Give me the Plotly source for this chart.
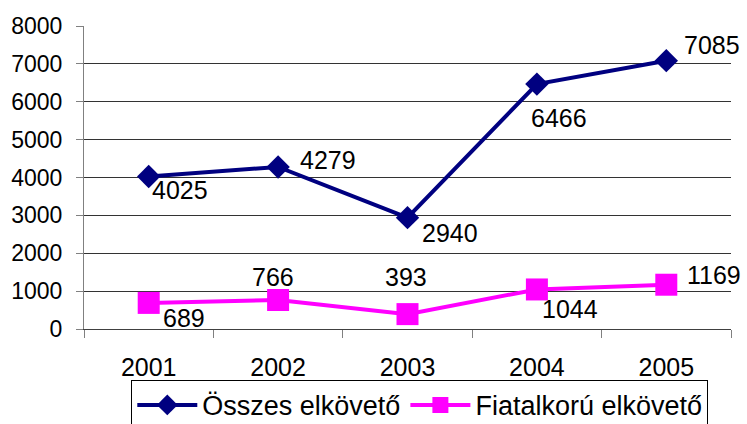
import plotly.graph_objects as go

years = ["2001", "2002", "2003", "2004", "2005"]
osszes = [4025, 4279, 2940, 6466, 7085]
fiatal = [689, 766, 393, 1044, 1169]
series_names = ["Összes elkövető", "Fiatalkorú elkövető"]

# label offsets in pixels (style only)
osszes_off = [(31, -13), (50, 7), (42, -15), (22, -34), (46, 16)]
fiatal_off = [(35, -15), (-5, 23), (-2, 37), (33, -20), (48, 10)]

FONT = "Liberation Sans, Arial, sans-serif"
NAVY = "#000080"
MAGENTA = "#FF00FF"

fig = go.Figure()
fig.add_trace(go.Scatter(
    x=years, y=osszes, name=series_names[0], mode="lines+markers",
    line=dict(color=NAVY, width=4),
    marker=dict(symbol="diamond", size=18, color=NAVY),
))
fig.add_trace(go.Scatter(
    x=years, y=fiatal, name=series_names[1], mode="lines+markers",
    line=dict(color=MAGENTA, width=4),
    marker=dict(symbol="square", size=22, color=MAGENTA),
))

annotations = []
for vals, offs in ((osszes, osszes_off), (fiatal, fiatal_off)):
    for i, (v, (dx, dy)) in enumerate(zip(vals, offs)):
        annotations.append(dict(
            x=i, y=v, xref="x", yref="y", text=str(v), showarrow=False,
            xanchor="center", yanchor="middle", xshift=dx, yshift=dy,
            font=dict(family=FONT, size=25, color="black"),
        ))

fig.update_layout(
    width=747, height=424,
    margin=dict(l=84, r=16, t=26, b=95, autoexpand=False),
    paper_bgcolor="white", plot_bgcolor="white",
    font=dict(family=FONT, color="black"),
    annotations=annotations,
    showlegend=True,
    legend=dict(
        orientation="h", x=0.519, xanchor="center", y=-0.168, yanchor="top",
        bordercolor="black", borderwidth=1,
        font=dict(family=FONT, size=27, color="black"),
        itemwidth=60,
    ),
    xaxis=dict(
        type="category",
        range=[-0.5, 4.5], showline=True, linecolor="#404040", linewidth=1,
        ticks="outside", tickson="boundaries", ticklen=8, tickcolor="#808080",
        showgrid=False, tickfont=dict(family=FONT, size=25, color="black"),
        ticklabelstandoff=16,
    ),
    yaxis=dict(
        range=[0, 8000], dtick=1000, showline=True, linecolor="#808080", linewidth=1,
        ticks="outside", ticklen=7, tickcolor="#808080",
        showgrid=True, gridcolor="#333333", gridwidth=1,
        tickfont=dict(family=FONT, size=23, color="black"),
        ticklabelstandoff=9, zeroline=False,
    ),
)

fig.write_html(
    "out.html",
    config={"displayModeBar": False},
    post_script="document.body.style.margin='0';document.body.style.overflow='hidden';",
)
